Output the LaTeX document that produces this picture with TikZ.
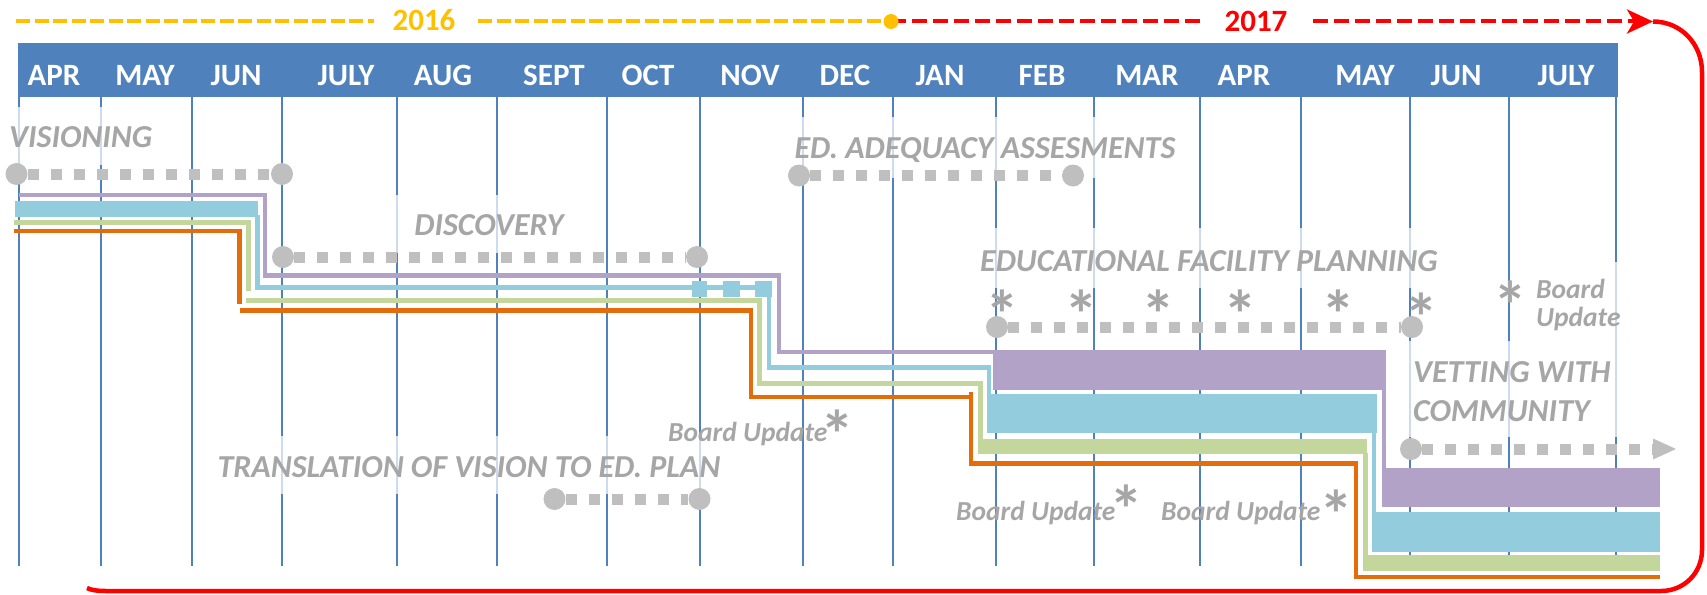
\documentclass[tikz,border=0pt]{standalone}
\usepackage{fontspec}
\setmainfont{Carlito}
\usetikzlibrary{arrows.meta}
\definecolor{hdr}{HTML}{4F81BD}
\definecolor{yel}{HTML}{FFC000}
\definecolor{rd}{HTML}{FF0000}
\definecolor{gtxt}{HTML}{A6A6A6}
\definecolor{gdot}{HTML}{BFBFBF}
\definecolor{cpur}{HTML}{B3A2C7}
\definecolor{cblu}{HTML}{93CDDD}
\definecolor{cgrn}{HTML}{C3D69B}
\definecolor{corg}{HTML}{E46C0A}
\tikzset{
  month/.style={text=white, font=\fontsize{31}{36}\selectfont\bfseries, anchor=base, inner sep=0pt},
  yearlbl/.style={font=\fontsize{31}{36}\selectfont\bfseries, anchor=base, inner sep=0pt},
  phase/.style={text=gtxt, font=\fontsize{32}{38}\selectfont\bfseries\itshape, anchor=base, inner sep=0pt},
  board/.style={text=gtxt, font=\fontsize{27.5}{32}\selectfont\bfseries\itshape, anchor=base, inner sep=0pt},
  astr/.style={text=gtxt, font=\fontsize{68}{68}\selectfont\bfseries, anchor=base, inner sep=0pt},
  gridln/.style={draw=hdr, line width=2.2pt},
  fade/.style={fill=white, fill opacity=0.72},
  dots/.style={draw=gdot, line width=11pt, dash pattern=on 11pt off 12pt},
  endpt/.style={circle, fill=gdot, minimum size=22pt, inner sep=0pt},
  thinln/.style={line width=4.5pt, line join=miter},
  yeardash/.style={draw=yel, line width=4pt, dash pattern=on 14pt off 4.5pt},
  reddash/.style={draw=rd, line width=4pt, dash pattern=on 15pt off 6pt},
}
\begin{document}
\begin{tikzpicture}[x=1pt,y=-1pt]
\useasboundingbox (0,0) rectangle (1707,594);
% header bar and grid
\fill[hdr] (18,43) rectangle (1618,97);
\foreach \gx in {19,101,192,282,397,497,607,700,803,893,996,1094,1200,1301,1410,1509,1616}
  \draw[gridln] (\gx,97) -- (\gx,566);
% translucent label backgrounds
\fill[fade] (5,107) rectangle (160,165);
\fill[fade] (390,195) rectangle (575,253);
\fill[fade] (785,117) rectangle (1185,178);
\fill[fade] (975,228) rectangle (1445,288);
\fill[fade] (1525,262) rectangle (1630,341);
\fill[fade] (1405,341) rectangle (1625,437);
\fill[fade] (205,436) rectangle (730,494);
% months
\node[month] (m1) at (54,85) {APR};
\node[month] (m2) at (145,85) {MAY};
\node[month] (m3) at (236,85) {JUN};
\node[month] (m4) at (346,85) {JULY};
\node[month] (m5) at (443,85) {AUG};
\node[month] (m6) at (554,85) {SEPT};
\node[month] (m7) at (648,85) {OCT};
\node[month] (m8) at (750,85) {NOV};
\node[month] (m9) at (845,85) {DEC};
\node[month] (m10) at (940,85) {JAN};
\node[month] (m11) at (1042,85) {FEB};
\node[month] (m12) at (1147,85) {MAR};
\node[month] (m13) at (1244,85) {APR};
\node[month] (m14) at (1365,85) {MAY};
\node[month] (m15) at (1456,85) {JUN};
\node[month] (m16) at (1566,85) {JULY};
% years
\coordinate (ya) at (16,21.5);
\coordinate (yb) at (374,21.5);
\coordinate (yc) at (478,21.5);
\coordinate (ydot) at (891,21.5);
\coordinate (ra) at (1203,21.5);
\coordinate (rb) at (1313,21.5);
\coordinate (rtip) at (1653,21.5);
\draw[yeardash] (ya) -- (yb);
\draw[yeardash] (yc) -- (ydot);
\node[yearlbl, text=yel] (y16) at (424,31) {2016};
\draw[reddash] (ydot) -- (ra);
\node[yearlbl, text=rd] (y17) at (1256,32) {2017};
\draw[reddash, -{Stealth[length=26pt,width=24pt,inset=7pt]}] (rb) -- (rtip);
\fill[yel] (ydot) circle[radius=7.5];
\draw[rd, line width=4.5pt] (rtip) .. controls (1681,21.5) and (1702,44) .. (1702,72)
  -- (1702,550) .. controls (1702,573) and (1684,591) .. (1661,591)
  -- (106,591) .. controls (97,591) and (91,590) .. (87,588);
% phase labels
\node[phase, anchor=base west] (visn) at (9,147) {VISIONING};
\node[phase] (disc) at (489,235) {DISCOVERY};
\node[phase] (edad) at (985,158) {ED. ADEQUACY ASSESMENTS};
\node[phase] (efp) at (1209,271) {EDUCATIONAL FACILITY PLANNING};
\node[phase] (trans) at (469,477) {TRANSLATION OF VISION TO ED. PLAN};
\node[phase, anchor=base west] (vet1) at (1413,382) {VETTING WITH};
\node[phase, anchor=base west] (vet2) at (1413,421) {COMMUNITY};
% board updates
\node[board, anchor=base west] (bu1) at (668,441) {Board Update};
\node[board, anchor=base west] (bu2) at (956,520) {Board Update};
\node[board, anchor=base west] (bu3) at (1161,520) {Board Update};
\node[board, anchor=base west] (bu4a) at (1536,298) {Board};
\node[board, anchor=base west] (bu4b) at (1536,326) {Update};
% asterisks
\foreach \sx/\sy [count=\k] in {1002/301,1081.5/301,1158/301,1240/301,1338/301,1421/304,1510/292,837/421,1126/496,1336.5/501}
  \node[astr] (st\k) at (\sx,\sy+37) {*};
% gray dotted phase bars
\node[endpt] (v1) at (16.5,174) {};
\node[endpt] (v2) at (282,174) {};
\draw[dots] (v1) -- (v2);
\node[endpt] (d1) at (283,257) {};
\node[endpt] (d2) at (697,257) {};
\draw[dots] (d1) -- (d2);
\node[endpt] (e1) at (799,175.5) {};
\node[endpt] (e2) at (1073,175.5) {};
\draw[dots] (e1) -- (e2);
\node[endpt] (f1) at (997,327) {};
\node[endpt] (f2) at (1412,327) {};
\draw[dots] (f1) -- (f2);
\node[endpt] (t1) at (554.5,499) {};
\node[endpt] (t2) at (699.5,499) {};
\draw[dots] (t1) -- (t2);
\node[endpt] (c1) at (1411,449) {};
\coordinate (c2) at (1653,449);
\coordinate (c3) at (1676,449);
\draw[dots] (c1) -- (c2);
\fill[gdot] (1653,438.5) -- (c3) -- (1653,459.5) -- cycle;
% purple stream
\draw[cpur, thinln] (19,195) -- (265,195) -- (265,275.5) -- (779,275.5) -- (779,352) -- (994,352);
\fill[cpur] (993,350) rectangle (1386,390);
\draw[cpur, thinln] (1384,389) -- (1384,470);
\fill[cpur] (1382,468) rectangle (1660,507);
% blue stream
\fill[cblu] (15,201) rectangle (258,217);
\draw[cblu, thinln] (257.5,215) -- (257.5,287.3) -- (769,287.3) -- (769,367.3) -- (989,367.3) -- (989,395);
\fill[cblu] (692,281) rectangle (707,297);
\fill[cblu] (723,281) rectangle (740,297);
\fill[cblu] (755,281) rectangle (772,297);
\fill[cblu] (987,394) rectangle (1377,433);
\draw[cblu, thinln] (1374,432) -- (1374,513);
\fill[cblu] (1372,512) rectangle (1660,552);
% green stream
\draw[cgrn, line width=5pt] (14,222.5) -- (248,222.5) -- (248,291);
\draw[cgrn, line width=5pt] (245.5,300) -- (759,300) -- (759,383.3) -- (980,383.3) -- (980,440);
\fill[cgrn] (978,439) rectangle (1367,454);
\draw[cgrn, line width=5pt] (1365,453) -- (1365,556);
\fill[cgrn] (1363,555) rectangle (1660,571);
% orange stream
\draw[corg, thinln] (14,231) -- (239.5,231) -- (239.5,304);
\draw[corg, thinln] (240,310.3) -- (751,310.3) -- (751,397) -- (971,397);
\draw[corg, thinln] (971,392) -- (971,463.3) -- (1356,463.3) -- (1356,577) -- (1660,577);
\end{tikzpicture}
\end{document}
